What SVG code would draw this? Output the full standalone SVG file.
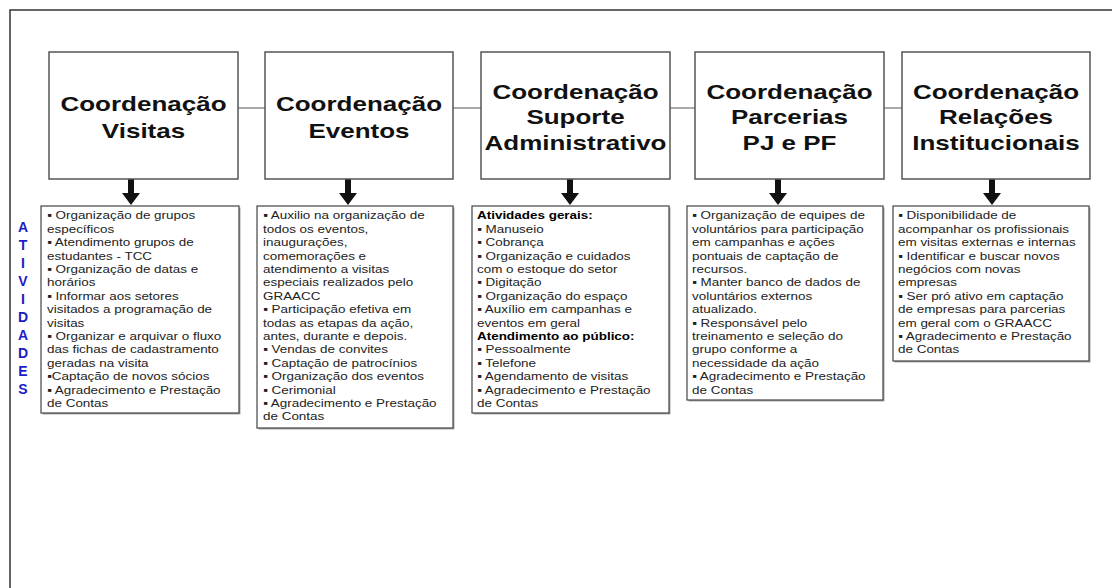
<svg xmlns="http://www.w3.org/2000/svg" width="1112" height="588" viewBox="0 0 1112 588">
  <style>
    .frame { fill: none; stroke: #333; stroke-width: 1.5; }
    .head { fill: #fff; stroke: #555; stroke-width: 1.5; }
    .title { font-family: "Liberation Sans", Arial, sans-serif; font-weight: bold; font-size: 20px; fill: #111; text-anchor: middle; }
    .card { fill: #fff; stroke: #444; stroke-width: 1.2; }
    .shadow { fill: #aaa; }
    .item { font-family: "Liberation Sans", Arial, sans-serif; font-size: 11.5px; fill: #222; }
    .item .b { font-weight: bold; fill: #000; }
    .link { stroke: #555; stroke-width: 1; fill: none; }
    .arrow { fill: #111; }
    .side { font-family: "Liberation Sans", Arial, sans-serif; font-weight: bold; font-size: 14px; fill: #1c1cc8; text-anchor: middle; }
  </style>

  <!-- page frame: top and left borders only -->
  <path class="frame" d="M10 588 V10 H1112"/>

  <!-- connectors: links between heads and arrows down to the activity cards -->
  <g id="connectors">
    <line class="link" x1="238" y1="108" x2="265" y2="108"/>
    <line class="link" x1="453" y1="108" x2="481" y2="108"/>
    <line class="link" x1="670" y1="108" x2="695" y2="108"/>
    <line class="link" x1="884" y1="108" x2="902" y2="108"/>
    <path class="arrow" d="M128 179 h6 v14 h6 l-9 12 l-9 -12 h6 z"/>
    <path class="arrow" d="M345 179 h6 v14 h6 l-9 12 l-9 -12 h6 z"/>
    <path class="arrow" d="M567 179 h6 v14 h6 l-9 12 l-9 -12 h6 z"/>
    <path class="arrow" d="M775 179 h6 v14 h6 l-9 12 l-9 -12 h6 z"/>
    <path class="arrow" d="M989 179 h6 v14 h6 l-9 12 l-9 -12 h6 z"/>
  </g>

  <!-- vertical side label -->
  <g id="atividades">
    <text class="side" x="23" y="232">A</text>
    <text class="side" x="23" y="250">T</text>
    <text class="side" x="23" y="268">I</text>
    <text class="side" x="23" y="286">V</text>
    <text class="side" x="23" y="304">I</text>
    <text class="side" x="23" y="322">D</text>
    <text class="side" x="23" y="340">A</text>
    <text class="side" x="23" y="358">D</text>
    <text class="side" x="23" y="376">E</text>
    <text class="side" x="23" y="394">S</text>
  </g>

  <!-- coordination heads -->
  <g id="coord-visitas">
    <rect class="head" x="49" y="52" width="189" height="127"/>
    <g transform="translate(143.5,0) scale(1.3,1)">
      <text class="title" x="0" y="111">Coordenação</text>
      <text class="title" x="0" y="138">Visitas</text>
    </g>
  </g>
  <g id="coord-eventos">
    <rect class="head" x="265" y="52" width="188" height="127"/>
    <g transform="translate(359,0) scale(1.3,1)">
      <text class="title" x="0" y="111">Coordenação</text>
      <text class="title" x="0" y="138">Eventos</text>
    </g>
  </g>
  <g id="coord-suporte">
    <rect class="head" x="481" y="52" width="189" height="127"/>
    <g transform="translate(575.5,0) scale(1.3,1)">
      <text class="title" x="0" y="99">Coordenação</text>
      <text class="title" x="0" y="124">Suporte</text>
      <text class="title" x="0" y="150">Administrativo</text>
    </g>
  </g>
  <g id="coord-parcerias">
    <rect class="head" x="695" y="52" width="189" height="127"/>
    <g transform="translate(789.5,0) scale(1.3,1)">
      <text class="title" x="0" y="99">Coordenação</text>
      <text class="title" x="0" y="124">Parcerias</text>
      <text class="title" x="0" y="150">PJ e PF</text>
    </g>
  </g>
  <g id="coord-relacoes">
    <rect class="head" x="902" y="52" width="188" height="127"/>
    <g transform="translate(996,0) scale(1.3,1)">
      <text class="title" x="0" y="99">Coordenação</text>
      <text class="title" x="0" y="124">Relações</text>
      <text class="title" x="0" y="150">Institucionais</text>
    </g>
  </g>

  <!-- activity cards -->
  <g id="ativ-visitas">
    <rect class="shadow" x="42.5" y="207.5" width="198" height="207"/>
    <rect class="card" x="41" y="206" width="198" height="207"/>
    <g transform="translate(47,0) scale(1.17,1)">
      <text class="item">
        <tspan x="0" y="219.5">▪ Organização de grupos</tspan>
        <tspan x="0" y="232.9">específicos</tspan>
        <tspan x="0" y="246.3">▪ Atendimento grupos de</tspan>
        <tspan x="0" y="259.7">estudantes - TCC</tspan>
        <tspan x="0" y="273.1">▪ Organização de datas e</tspan>
        <tspan x="0" y="286.5">horários</tspan>
        <tspan x="0" y="299.9">▪ Informar aos setores</tspan>
        <tspan x="0" y="313.3">visitados a programação de</tspan>
        <tspan x="0" y="326.7">visitas</tspan>
        <tspan x="0" y="340.1">▪ Organizar e arquivar o fluxo</tspan>
        <tspan x="0" y="353.5">das fichas de cadastramento</tspan>
        <tspan x="0" y="366.9">geradas na visita</tspan>
        <tspan x="0" y="380.3">▪Captação de novos sócios</tspan>
        <tspan x="0" y="393.7">▪ Agradecimento e Prestação</tspan>
        <tspan x="0" y="407.1">de Contas</tspan>
      </text>
    </g>
  </g>

  <g id="ativ-eventos">
    <rect class="shadow" x="258.5" y="207.5" width="196" height="222"/>
    <rect class="card" x="257" y="206" width="196" height="222"/>
    <g transform="translate(263,0) scale(1.17,1)">
      <text class="item">
        <tspan x="0" y="219.5">▪ Auxilio na organização de</tspan>
        <tspan x="0" y="232.9">todos os eventos,</tspan>
        <tspan x="0" y="246.3">inaugurações,</tspan>
        <tspan x="0" y="259.7">comemorações e</tspan>
        <tspan x="0" y="273.1">atendimento a visitas</tspan>
        <tspan x="0" y="286.5">especiais realizados pelo</tspan>
        <tspan x="0" y="299.9">GRAACC</tspan>
        <tspan x="0" y="313.3">▪ Participação efetiva em</tspan>
        <tspan x="0" y="326.7">todas as etapas da ação,</tspan>
        <tspan x="0" y="340.1">antes, durante e depois.</tspan>
        <tspan x="0" y="353.5">▪ Vendas de convites</tspan>
        <tspan x="0" y="366.9">▪ Captação de patrocínios</tspan>
        <tspan x="0" y="380.3">▪ Organização dos eventos</tspan>
        <tspan x="0" y="393.7">▪ Cerimonial</tspan>
        <tspan x="0" y="407.1">▪ Agradecimento e Prestação</tspan>
        <tspan x="0" y="420.5">de Contas</tspan>
      </text>
    </g>
  </g>

  <g id="ativ-suporte">
    <rect class="shadow" x="473.5" y="207.5" width="197" height="207"/>
    <rect class="card" x="472" y="206" width="197" height="207"/>
    <g transform="translate(477,0) scale(1.17,1)">
      <text class="item">
        <tspan x="0" y="219.5" class="b">Atividades gerais:</tspan>
        <tspan x="0" y="232.9">▪ Manuseio</tspan>
        <tspan x="0" y="246.3">▪ Cobrança</tspan>
        <tspan x="0" y="259.7">▪ Organização e cuidados</tspan>
        <tspan x="0" y="273.1">com o estoque do setor</tspan>
        <tspan x="0" y="286.5">▪ Digitação</tspan>
        <tspan x="0" y="299.9">▪ Organização do espaço</tspan>
        <tspan x="0" y="313.3">▪ Auxílio em campanhas e</tspan>
        <tspan x="0" y="326.7">eventos em geral</tspan>
        <tspan x="0" y="340.1" class="b">Atendimento ao público:</tspan>
        <tspan x="0" y="353.5">▪ Pessoalmente</tspan>
        <tspan x="0" y="366.9">▪ Telefone</tspan>
        <tspan x="0" y="380.3">▪ Agendamento de visitas</tspan>
        <tspan x="0" y="393.7">▪ Agradecimento e Prestação</tspan>
        <tspan x="0" y="407.1">de Contas</tspan>
      </text>
    </g>
  </g>

  <g id="ativ-parcerias">
    <rect class="shadow" x="688.5" y="207.5" width="196" height="194"/>
    <rect class="card" x="687" y="206" width="196" height="194"/>
    <g transform="translate(692,0) scale(1.17,1)">
      <text class="item">
        <tspan x="0" y="219.5">▪ Organização de equipes de</tspan>
        <tspan x="0" y="232.9">voluntários para participação</tspan>
        <tspan x="0" y="246.3">em campanhas e ações</tspan>
        <tspan x="0" y="259.7">pontuais de captação de</tspan>
        <tspan x="0" y="273.1">recursos.</tspan>
        <tspan x="0" y="286.5">▪ Manter banco de dados de</tspan>
        <tspan x="0" y="299.9">voluntários externos</tspan>
        <tspan x="0" y="313.3">atualizado.</tspan>
        <tspan x="0" y="326.7">▪ Responsável pelo</tspan>
        <tspan x="0" y="340.1">treinamento e seleção do</tspan>
        <tspan x="0" y="353.5">grupo conforme a</tspan>
        <tspan x="0" y="366.9">necessidade da ação</tspan>
        <tspan x="0" y="380.3">▪ Agradecimento e Prestação</tspan>
        <tspan x="0" y="393.7">de Contas</tspan>
      </text>
    </g>
  </g>

  <g id="ativ-relacoes">
    <rect class="shadow" x="894.5" y="207.5" width="196" height="155"/>
    <rect class="card" x="893" y="206" width="196" height="155"/>
    <g transform="translate(898,0) scale(1.17,1)">
      <text class="item">
        <tspan x="0" y="219.5">▪ Disponibilidade de</tspan>
        <tspan x="0" y="232.9">acompanhar os profissionais</tspan>
        <tspan x="0" y="246.3">em visitas externas e internas</tspan>
        <tspan x="0" y="259.7">▪ Identificar e buscar novos</tspan>
        <tspan x="0" y="273.1">negócios com novas</tspan>
        <tspan x="0" y="286.5">empresas</tspan>
        <tspan x="0" y="299.9">▪ Ser pró ativo em captação</tspan>
        <tspan x="0" y="313.3">de empresas para parcerias</tspan>
        <tspan x="0" y="326.7">em geral com o GRAACC</tspan>
        <tspan x="0" y="340.1">▪ Agradecimento e Prestação</tspan>
        <tspan x="0" y="353.5">de Contas</tspan>
      </text>
    </g>
  </g>
</svg>
